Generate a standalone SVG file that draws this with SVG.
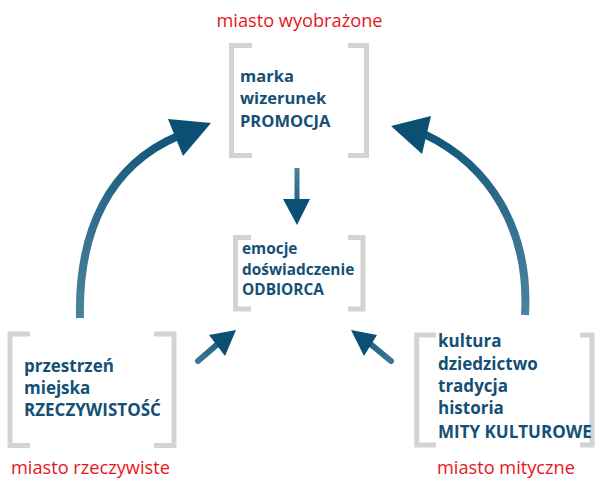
<svg xmlns="http://www.w3.org/2000/svg" width="597" height="478" viewBox="0 0 597 478">
<defs>
<style>
.br{fill:none;stroke:#d3d3d3;stroke-width:5;stroke-linecap:butt;stroke-linejoin:miter}
.t{font-family:"Open Sans","Noto Sans","DejaVu Sans",sans-serif;font-weight:700;font-size:16.5px;fill:#145075}
.m{font-size:15.4px}
.b{font-size:17px}
.r{font-family:"Open Sans","Noto Sans","DejaVu Sans",sans-serif;font-weight:400;font-size:18.2px;fill:#e8141c}
</style>
<linearGradient id="gL" gradientUnits="userSpaceOnUse" x1="80" y1="318" x2="200" y2="125">
<stop offset="0" stop-color="#4b839f"/><stop offset="1" stop-color="#0b4f74"/>
</linearGradient>
<linearGradient id="gR" gradientUnits="userSpaceOnUse" x1="525" y1="315" x2="400" y2="125">
<stop offset="0" stop-color="#4b839f"/><stop offset="1" stop-color="#0b4f74"/>
</linearGradient>
<linearGradient id="gD" gradientUnits="userSpaceOnUse" x1="0" y1="168" x2="0" y2="225">
<stop offset="0" stop-color="#4b839f"/><stop offset="1" stop-color="#0b4f74"/>
</linearGradient>
<linearGradient id="gS1" gradientUnits="userSpaceOnUse" x1="197" y1="362" x2="235" y2="330">
<stop offset="0" stop-color="#3e7896"/><stop offset="1" stop-color="#0b4f74"/>
</linearGradient>
<linearGradient id="gS2" gradientUnits="userSpaceOnUse" x1="392" y1="362" x2="352" y2="330">
<stop offset="0" stop-color="#3e7896"/><stop offset="1" stop-color="#0b4f74"/>
</linearGradient>
</defs>
<rect width="597" height="478" fill="#ffffff"/>

<g id="node-top">
<text class="r" x="299.5" y="27" text-anchor="middle">miasto wyobrażone</text>
<path class="br" d="M252 45.5 H231.5 V155.5 H252"/>
<path class="br" d="M348 45.5 H366.5 V155.5 H348"/>
<text class="t" x="240" y="82">marka</text>
<text class="t" x="240" y="104">wizerunek</text>
<text class="t" x="240" y="127">PROMOCJA</text>
</g>

<g id="node-middle">
<path class="br" d="M251 237.5 H235.5 V309 H251"/>
<path class="br" d="M348 237.5 H363 V309 H348"/>
<text class="t m" x="242" y="254">emocje</text>
<text class="t m" x="242" y="275">doświadczenie</text>
<text class="t m" x="242" y="295">ODBIORCA</text>
</g>

<g id="node-left">
<path class="br" d="M30 334 H10 V445.5 H30"/>
<path class="br" d="M154 334 H174 V445.5 H154"/>
<text class="t b" x="24" y="372">przestrzeń</text>
<text class="t b" x="24" y="394">miejska</text>
<text class="t b" x="24" y="416">RZECZYWISTOŚĆ</text>
<text class="r" x="11" y="474">miasto rzeczywiste</text>
</g>

<g id="node-right">
<path class="br" d="M436 335 H416.7 V445 H436"/>
<path class="br" d="M580 335 H592 V445 H580"/>
<text class="t b" x="438" y="347">kultura</text>
<text class="t b" x="438" y="370">dziedzictwo</text>
<text class="t b" x="438" y="392">tradycja</text>
<text class="t b" x="438" y="414">historia</text>
<text class="t b" x="438" y="438">MITY KULTUROWE</text>
<text class="r" x="437" y="474">miasto mityczne</text>
</g>

<g id="connectors">
<path d="M80 318 C78 230 110 165 178 136" fill="none" stroke="url(#gL)" stroke-width="8"/>
<path d="M168 119 L211 123 L183 156 Z" fill="#0b4f74"/>
<path d="M525 315 C530 230 490 165 424 134" fill="none" stroke="url(#gR)" stroke-width="8"/>
<path d="M431 116 L391 126 L422 154 Z" fill="#0b4f74"/>
<path d="M297 168 V202" fill="none" stroke="url(#gD)" stroke-width="5"/>
<path d="M283 199 L310 199 L297 225 Z" fill="#0b4f74"/>
<path d="M198 361 L220 342" fill="none" stroke="url(#gS1)" stroke-width="6" stroke-linecap="round"/>
<path d="M209 335 L236 330 L225 356 Z" fill="#0b4f74"/>
<path d="M391 361 L368 342" fill="none" stroke="url(#gS2)" stroke-width="6" stroke-linecap="round"/>
<path d="M377 335 L351 330 L364 356 Z" fill="#0b4f74"/>
</g>
</svg>
